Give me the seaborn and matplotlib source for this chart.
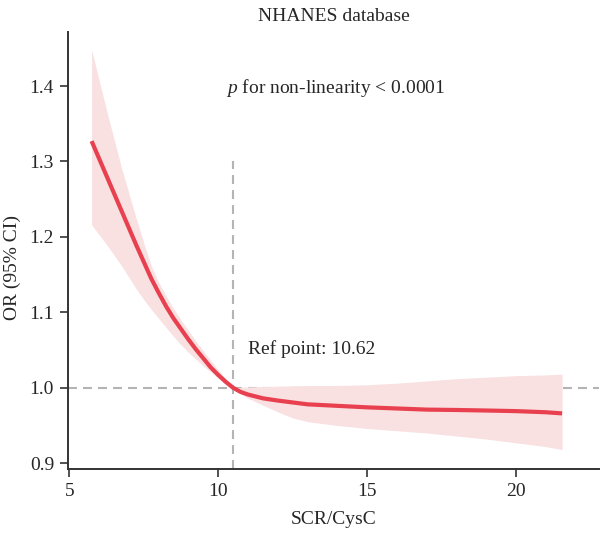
import numpy as np
import pandas as pd
import matplotlib
matplotlib.use("Agg")
import matplotlib.pyplot as plt
import seaborn as sns

# values
scr_cysc = [5.75, 6.25, 6.75, 7.25, 7.5, 7.75, 8.0, 8.25, 8.5, 8.75, 9.0, 9.25, 9.5, 9.75,
            10.0, 10.25, 10.5, 10.75, 11.0, 11.5, 12.0, 12.5, 13.0, 14.0, 15.0, 16.0,
            17.0, 18.0, 19.0, 20.0, 21.0, 21.55]
odds_ratio = [1.327, 1.281, 1.235, 1.189, 1.167, 1.145, 1.126, 1.108, 1.092, 1.078, 1.064,
              1.051, 1.039, 1.027, 1.017, 1.008, 1.000, 0.9945, 0.991, 0.986, 0.983, 0.9805,
              0.978, 0.976, 0.974, 0.9725, 0.971, 0.9705, 0.9698, 0.969, 0.9675, 0.966]
ci_upper = [1.448, 1.368, 1.292, 1.224, 1.192, 1.162, 1.140, 1.122, 1.105, 1.090, 1.076,
            1.062, 1.049, 1.036, 1.024, 1.012, 1.000, 1.0005, 1.001, 1.0015, 1.002, 1.0025,
            1.003, 1.003, 1.004, 1.006, 1.009, 1.012, 1.014, 1.016, 1.017, 1.018]
ci_lower = [1.216, 1.190, 1.162, 1.131, 1.117, 1.104, 1.092, 1.080, 1.068, 1.057, 1.047,
            1.038, 1.029, 1.021, 1.013, 1.006, 1.000, 0.992, 0.986, 0.977, 0.968, 0.960,
            0.955, 0.950, 0.946, 0.943, 0.940, 0.936, 0.932, 0.927, 0.922, 0.918]

ref_point = 10.5
x_ticks = [5, 10, 15, 20]
y_ticks = [0.9, 1.0, 1.1, 1.2, 1.3, 1.4]

df = pd.DataFrame({"x": scr_cysc, "OR": odds_ratio, "lo": ci_lower, "hi": ci_upper})

sns.set_style("ticks")
plt.rcParams["font.family"] = ["Liberation Serif", "DejaVu Serif"]
plt.rcParams["mathtext.fontset"] = "custom"
plt.rcParams["mathtext.it"] = "Liberation Serif:italic"

fig = plt.figure(figsize=(6, 5.33), dpi=100)
ax = fig.add_axes([0.1133, 0.12, 0.885, 0.82])

red = "#e8404e"
grey = "#b4b4b4"

# confidence band + spline curve
ax.fill_between(df["x"], df["lo"], df["hi"], color="#f9e0e1", lw=0)
sns.lineplot(data=df, x="x", y="OR", color=red, lw=3, ax=ax,
             solid_capstyle="butt", solid_joinstyle="round")

ylo, yhi = 0.8922, 1.4717
ax.set_xlim(4.956, 22.79)
ax.set_ylim(ylo, yhi)

ax.axhline(1.0, color=grey, lw=1.5, ls=(0, (4.3, 2.9)), zorder=0)
ax.vlines(ref_point, ylo, 1.3, color=grey, lw=1.5, ls=(0, (4.3, 2.9)), zorder=0)

ax.text(10.28, 1.398, r"$p$ for non-linearity < 0.0001", fontsize=14, va="center", ha="left")
ax.text(11.0, 1.051, "Ref point: 10.62", fontsize=14, va="center", ha="left")

ax.set_xticks(x_ticks)
ax.set_yticks(y_ticks)
ax.set_yticklabels([f"{v:.1f}" for v in y_ticks])
ax.tick_params(labelsize=14, length=6, width=1.2, color="#333333", pad=4)
for side in ["left", "bottom"]:
    ax.spines[side].set_linewidth(1.4)
    ax.spines[side].set_color("#333333")
sns.despine(ax=ax)

ax.set_title("NHANES database", fontsize=14, pad=8)
ax.set_xlabel("SCR/CysC", fontsize=14, labelpad=8)
ax.set_ylabel("OR (95% CI)", fontsize=14)
ax.yaxis.set_label_coords(-0.088, 0.462)

fig.savefig("out.png", dpi=100)
